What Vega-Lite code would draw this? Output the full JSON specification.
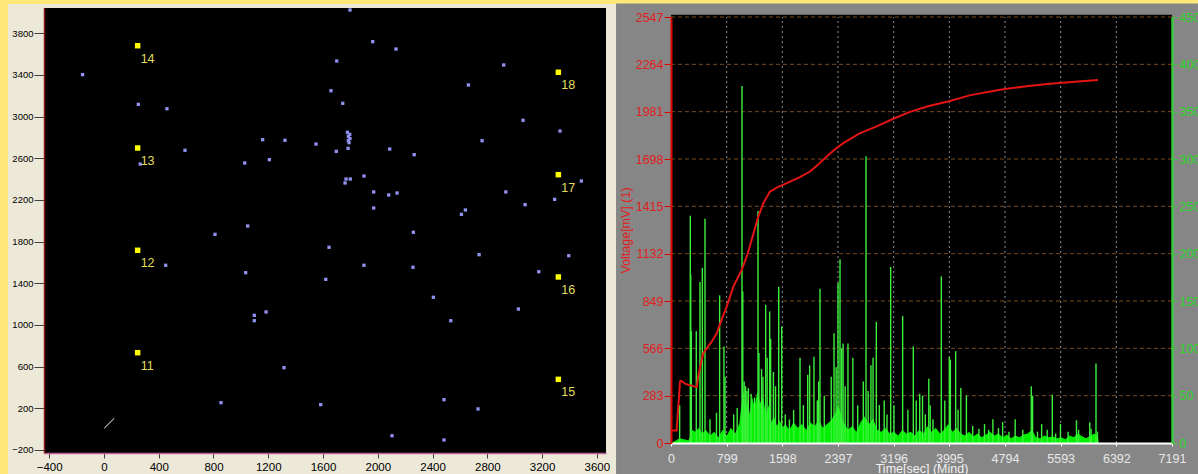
{
  "$schema": "https://vega.github.io/schema/vega-lite/v6.json",
  "width": 1198,
  "height": 474,
  "autosize": {"type": "none"},
  "padding": 0,
  "background": "#FFE878",
  "config": {
    "view": {"stroke": null},
    "font": "Liberation Sans",
    "axis": {"labelFont": "Liberation Sans", "titleFont": "Liberation Sans", "labelFlush": false, "labelOverlap": false, "grid": false, "titleFontWeight": "normal"}
  },
  "datasets": {
    "sensors": [
      {"x": -156, "y": 3403}, {"x": 251, "y": 3118}, {"x": 460, "y": 3076}, {"x": 592, "y": 2677}, {"x": 265, "y": 2545},
      {"x": 1028, "y": 2555}, {"x": 1159, "y": 2779}, {"x": 1208, "y": 2587}, {"x": 1322, "y": 2773}, {"x": 1050, "y": 1950},
      {"x": 811, "y": 1870}, {"x": 451, "y": 1573}, {"x": 1035, "y": 1502}, {"x": 1098, "y": 1093}, {"x": 1098, "y": 1041},
      {"x": 1184, "y": 1125}, {"x": 1315, "y": 590}, {"x": 855, "y": 254},
      {"x": 1797, "y": 4024}, {"x": 1963, "y": 3720}, {"x": 2133, "y": 3649}, {"x": 1700, "y": 3534}, {"x": 2920, "y": 3496},
      {"x": 2662, "y": 3304}, {"x": 1658, "y": 3249}, {"x": 1744, "y": 3128}, {"x": 3061, "y": 2965}, {"x": 3331, "y": 2862},
      {"x": 2762, "y": 2769},
      {"x": 1778, "y": 2850}, {"x": 1795, "y": 2830}, {"x": 1785, "y": 2810}, {"x": 1797, "y": 2790}, {"x": 1785, "y": 2770}, {"x": 1790, "y": 2750},
      {"x": 1549, "y": 2737}, {"x": 1783, "y": 2696}, {"x": 1697, "y": 2667}, {"x": 2087, "y": 2689}, {"x": 2266, "y": 2635},
      {"x": 1899, "y": 2430}, {"x": 1768, "y": 2401}, {"x": 1799, "y": 2401}, {"x": 1761, "y": 2363}, {"x": 1970, "y": 2277},
      {"x": 2080, "y": 2248}, {"x": 2141, "y": 2267}, {"x": 1970, "y": 2123}, {"x": 2935, "y": 2277}, {"x": 3487, "y": 2382},
      {"x": 3292, "y": 2206}, {"x": 3076, "y": 2155}, {"x": 2640, "y": 2104}, {"x": 2611, "y": 2062}, {"x": 2260, "y": 1890},
      {"x": 1644, "y": 1746}, {"x": 1899, "y": 1573}, {"x": 1620, "y": 1438}, {"x": 2257, "y": 1554}, {"x": 2740, "y": 1675},
      {"x": 3395, "y": 1665}, {"x": 3176, "y": 1511}, {"x": 2406, "y": 1266}, {"x": 2533, "y": 1041}, {"x": 3027, "y": 1153},
      {"x": 1583, "y": 235}, {"x": 2484, "y": 283}, {"x": 2732, "y": 194}, {"x": 2104, "y": -63}, {"x": 2484, "y": -104}
    ],
    "channels": [
      {"ch": "11", "x": 246, "y": 734}, {"ch": "12", "x": 246, "y": 1717}, {"ch": "13", "x": 246, "y": 2699}, {"ch": "14", "x": 246, "y": 3681},
      {"ch": "15", "x": 3319, "y": 478}, {"ch": "16", "x": 3319, "y": 1461}, {"ch": "17", "x": 3319, "y": 2443}, {"ch": "18", "x": 3319, "y": 3426}
    ],
    "origin": [{"x": 2, "y": 9}, {"x": 75, "y": 104}],
    "voltage": [
      {"t": 0, "mv": 74}, {"t": 81, "mv": 74}, {"t": 105, "mv": 217}, {"t": 129, "mv": 367}, {"t": 145, "mv": 372},
      {"t": 200, "mv": 355}, {"t": 270, "mv": 345}, {"t": 344, "mv": 337}, {"t": 370, "mv": 335}, {"t": 392, "mv": 400},
      {"t": 430, "mv": 480}, {"t": 464, "mv": 537}, {"t": 512, "mv": 566}, {"t": 584, "mv": 606}, {"t": 656, "mv": 656},
      {"t": 720, "mv": 730}, {"t": 799, "mv": 815}, {"t": 895, "mv": 935}, {"t": 1015, "mv": 1035}, {"t": 1100, "mv": 1130},
      {"t": 1158, "mv": 1215}, {"t": 1253, "mv": 1354}, {"t": 1325, "mv": 1434}, {"t": 1421, "mv": 1504}, {"t": 1465, "mv": 1514},
      {"t": 1530, "mv": 1530}, {"t": 1600, "mv": 1542}, {"t": 1708, "mv": 1563}, {"t": 1850, "mv": 1590}, {"t": 1995, "mv": 1623},
      {"t": 2100, "mv": 1660}, {"t": 2235, "mv": 1713}, {"t": 2350, "mv": 1755}, {"t": 2474, "mv": 1793}, {"t": 2700, "mv": 1850},
      {"t": 2952, "mv": 1893}, {"t": 3200, "mv": 1940}, {"t": 3430, "mv": 1980}, {"t": 3700, "mv": 2015}, {"t": 4004, "mv": 2045},
      {"t": 4300, "mv": 2080}, {"t": 4722, "mv": 2112}, {"t": 5100, "mv": 2133}, {"t": 5440, "mv": 2148}, {"t": 5800, "mv": 2160},
      {"t": 6129, "mv": 2170}
    ],
    "hitsEnvelope": [
      {"t": 0, "hits": 0}, {"t": 60, "hits": 2}, {"t": 120, "hits": 5}, {"t": 250, "hits": 3}, {"t": 280, "hits": 8},
      {"t": 300, "hits": 14}, {"t": 350, "hits": 12}, {"t": 400, "hits": 16}, {"t": 450, "hits": 10}, {"t": 500, "hits": 14},
      {"t": 560, "hits": 8}, {"t": 620, "hits": 12}, {"t": 680, "hits": 6}, {"t": 740, "hits": 14}, {"t": 800, "hits": 8},
      {"t": 860, "hits": 16}, {"t": 920, "hits": 10}, {"t": 980, "hits": 20}, {"t": 1010, "hits": 40}, {"t": 1040, "hits": 55},
      {"t": 1070, "hits": 35}, {"t": 1100, "hits": 45}, {"t": 1130, "hits": 30}, {"t": 1160, "hits": 50}, {"t": 1200, "hits": 38},
      {"t": 1240, "hits": 55}, {"t": 1280, "hits": 42}, {"t": 1320, "hits": 50}, {"t": 1360, "hits": 30}, {"t": 1400, "hits": 40},
      {"t": 1440, "hits": 22}, {"t": 1480, "hits": 28}, {"t": 1520, "hits": 18}, {"t": 1560, "hits": 24}, {"t": 1600, "hits": 16},
      {"t": 1640, "hits": 20}, {"t": 1700, "hits": 14}, {"t": 1760, "hits": 22}, {"t": 1820, "hits": 16}, {"t": 1880, "hits": 20},
      {"t": 1940, "hits": 14}, {"t": 2000, "hits": 22}, {"t": 2060, "hits": 18}, {"t": 2120, "hits": 24}, {"t": 2180, "hits": 16},
      {"t": 2240, "hits": 20}, {"t": 2300, "hits": 24}, {"t": 2360, "hits": 32}, {"t": 2400, "hits": 40}, {"t": 2440, "hits": 30},
      {"t": 2480, "hits": 22}, {"t": 2540, "hits": 14}, {"t": 2600, "hits": 18}, {"t": 2660, "hits": 12}, {"t": 2720, "hits": 22},
      {"t": 2780, "hits": 28}, {"t": 2840, "hits": 20}, {"t": 2900, "hits": 26}, {"t": 2960, "hits": 14}, {"t": 3020, "hits": 12},
      {"t": 3080, "hits": 16}, {"t": 3140, "hits": 10}, {"t": 3200, "hits": 12}, {"t": 3260, "hits": 8}, {"t": 3320, "hits": 14},
      {"t": 3380, "hits": 10}, {"t": 3440, "hits": 12}, {"t": 3500, "hits": 8}, {"t": 3560, "hits": 14}, {"t": 3620, "hits": 10},
      {"t": 3680, "hits": 18}, {"t": 3740, "hits": 12}, {"t": 3800, "hits": 16}, {"t": 3860, "hits": 10}, {"t": 3920, "hits": 14},
      {"t": 3980, "hits": 20}, {"t": 4040, "hits": 12}, {"t": 4100, "hits": 16}, {"t": 4160, "hits": 10}, {"t": 4220, "hits": 8},
      {"t": 4280, "hits": 12}, {"t": 4340, "hits": 7}, {"t": 4400, "hits": 10}, {"t": 4460, "hits": 6}, {"t": 4520, "hits": 9},
      {"t": 4580, "hits": 12}, {"t": 4640, "hits": 8}, {"t": 4700, "hits": 10}, {"t": 4760, "hits": 6}, {"t": 4820, "hits": 9},
      {"t": 4880, "hits": 5}, {"t": 4940, "hits": 8}, {"t": 5000, "hits": 6}, {"t": 5060, "hits": 9}, {"t": 5120, "hits": 10},
      {"t": 5180, "hits": 14}, {"t": 5240, "hits": 6}, {"t": 5300, "hits": 5}, {"t": 5360, "hits": 8}, {"t": 5420, "hits": 6},
      {"t": 5480, "hits": 7}, {"t": 5540, "hits": 5}, {"t": 5600, "hits": 6}, {"t": 5660, "hits": 4}, {"t": 5720, "hits": 8},
      {"t": 5780, "hits": 6}, {"t": 5840, "hits": 10}, {"t": 5900, "hits": 7}, {"t": 5960, "hits": 5}, {"t": 6020, "hits": 8},
      {"t": 6080, "hits": 10}, {"t": 6130, "hits": 6}, {"t": 6140, "hits": 0}
    ],
    "hitSpikes": [
      {"t": 124, "hits": 40}, {"t": 277, "hits": 240}, {"t": 283, "hits": 178}, {"t": 291, "hits": 118}, {"t": 363, "hits": 118},
      {"t": 416, "hits": 170}, {"t": 450, "hits": 185}, {"t": 488, "hits": 237}, {"t": 560, "hits": 25}, {"t": 653, "hits": 32},
      {"t": 698, "hits": 156}, {"t": 760, "hits": 102}, {"t": 775, "hits": 70}, {"t": 900, "hits": 30}, {"t": 950, "hits": 37},
      {"t": 1019, "hits": 377}, {"t": 1030, "hits": 160}, {"t": 1050, "hits": 65}, {"t": 1070, "hits": 60}, {"t": 1090, "hits": 55},
      {"t": 1110, "hits": 58}, {"t": 1150, "hits": 52}, {"t": 1200, "hits": 48}, {"t": 1249, "hits": 245}, {"t": 1262, "hits": 95},
      {"t": 1300, "hits": 78}, {"t": 1320, "hits": 70}, {"t": 1359, "hits": 146}, {"t": 1380, "hits": 90}, {"t": 1416, "hits": 139},
      {"t": 1430, "hits": 110}, {"t": 1470, "hits": 75}, {"t": 1500, "hits": 60}, {"t": 1546, "hits": 165}, {"t": 1589, "hits": 123},
      {"t": 1640, "hits": 30}, {"t": 1700, "hits": 25}, {"t": 1760, "hits": 35}, {"t": 1852, "hits": 90}, {"t": 1900, "hits": 40},
      {"t": 1962, "hits": 72}, {"t": 1990, "hits": 82}, {"t": 2052, "hits": 91}, {"t": 2100, "hits": 45}, {"t": 2120, "hits": 65},
      {"t": 2139, "hits": 163}, {"t": 2200, "hits": 50}, {"t": 2300, "hits": 70}, {"t": 2340, "hits": 116}, {"t": 2370, "hits": 80},
      {"t": 2397, "hits": 169}, {"t": 2426, "hits": 194}, {"t": 2450, "hits": 100}, {"t": 2470, "hits": 105}, {"t": 2500, "hits": 60},
      {"t": 2540, "hits": 105}, {"t": 2610, "hits": 90}, {"t": 2680, "hits": 40}, {"t": 2760, "hits": 65}, {"t": 2799, "hits": 303},
      {"t": 2830, "hits": 55}, {"t": 2870, "hits": 82}, {"t": 2900, "hits": 90}, {"t": 2947, "hits": 128}, {"t": 2990, "hits": 40},
      {"t": 3060, "hits": 45}, {"t": 3100, "hits": 30}, {"t": 3153, "hits": 186}, {"t": 3200, "hits": 40}, {"t": 3325, "hits": 134},
      {"t": 3400, "hits": 35}, {"t": 3478, "hits": 102}, {"t": 3520, "hits": 45}, {"t": 3570, "hits": 52}, {"t": 3610, "hits": 50},
      {"t": 3650, "hits": 30}, {"t": 3700, "hits": 68}, {"t": 3720, "hits": 40}, {"t": 3760, "hits": 25}, {"t": 3880, "hits": 176},
      {"t": 3930, "hits": 45}, {"t": 3995, "hits": 91}, {"t": 4010, "hits": 88}, {"t": 4086, "hits": 97}, {"t": 4120, "hits": 35},
      {"t": 4160, "hits": 58}, {"t": 4240, "hits": 50}, {"t": 4330, "hits": 18}, {"t": 4420, "hits": 15}, {"t": 4500, "hits": 20},
      {"t": 4560, "hits": 14}, {"t": 4620, "hits": 25}, {"t": 4700, "hits": 16}, {"t": 4760, "hits": 22}, {"t": 4850, "hits": 12},
      {"t": 4940, "hits": 25}, {"t": 5050, "hits": 14}, {"t": 5171, "hits": 60}, {"t": 5190, "hits": 50}, {"t": 5260, "hits": 12},
      {"t": 5320, "hits": 20}, {"t": 5400, "hits": 14}, {"t": 5473, "hits": 51}, {"t": 5520, "hits": 10}, {"t": 5590, "hits": 20},
      {"t": 5700, "hits": 12}, {"t": 5820, "hits": 24}, {"t": 5850, "hits": 14}, {"t": 6010, "hits": 22}, {"t": 6030, "hits": 15},
      {"t": 6100, "hits": 84}, {"t": 6120, "hits": 12}
    ],
    "timeGrid": [{"t": 799}, {"t": 1598}, {"t": 2397}, {"t": 3196}, {"t": 3995}, {"t": 4794}, {"t": 5593}, {"t": 6392}],
    "voltGrid": [{"mv": 283}, {"mv": 566}, {"mv": 849}, {"mv": 1132}, {"mv": 1415}, {"mv": 1698}, {"mv": 1981}, {"mv": 2264}, {"mv": 2547}]
  },
  "layer": [
    {
      "layer": [
        {
          "data": {"values": [{}]},
          "mark": {"type": "rect", "color": "#ECE9D8"},
          "encoding": {
            "x": {"datum": -701, "type": "quantitative", "scale": {"domain": [-438, 3667], "range": [44, 606], "nice": false, "zero": false}, "axis": null},
            "x2": {"datum": 3740},
            "y": {"datum": 4081, "type": "quantitative", "scale": {"domain": [-229, 4043], "range": [453, 8], "nice": false, "zero": false}, "axis": null},
            "y2": {"datum": -431}
          }
        },
        {
          "data": {"values": [{}]},
          "mark": {"type": "rect", "color": "#000000"},
          "encoding": {
            "x": {"datum": -438, "type": "quantitative", "scale": {"domain": [-438, 3667], "range": [44, 606], "nice": false, "zero": false}, "axis": null},
            "x2": {"datum": 3667},
            "y": {"datum": -229, "type": "quantitative", "scale": {"domain": [-229, 4043], "range": [453, 8], "nice": false, "zero": false}, "axis": null},
            "y2": {"datum": 4043}
          }
        },
        {
          "data": {"name": "origin"},
          "mark": {"type": "line", "color": "#FFFFFF", "strokeWidth": 1},
          "encoding": {
            "x": {"field": "x", "type": "quantitative", "scale": {"domain": [-438, 3667], "range": [44, 606], "nice": false, "zero": false}, "axis": null},
            "y": {"field": "y", "type": "quantitative", "scale": {"domain": [-229, 4043], "range": [453, 8], "nice": false, "zero": false}, "axis": null}
          }
        },
        {
          "data": {"name": "sensors"},
          "mark": {"type": "square", "size": 11, "color": "#9090EE", "opacity": 1},
          "encoding": {
            "x": {"field": "x", "type": "quantitative", "scale": {"domain": [-438, 3667], "range": [44, 606], "nice": false, "zero": false},
                  "axis": {"orient": "bottom", "offset": -21, "zindex": 2, "values": [-400, 0, 400, 800, 1200, 1600, 2000, 2400, 2800, 3200, 3600], "format": "d",
                           "labelFontSize": 11.5, "labelColor": "#000000", "tickColor": "#404040", "tickSize": 5, "labelPadding": 3,
                           "domainColor": "#C0609A", "domainWidth": 1.5, "title": null}},
            "y": {"field": "y", "type": "quantitative", "scale": {"domain": [-229, 4043], "range": [453, 8], "nice": false, "zero": false},
                  "axis": {"orient": "left", "offset": -44, "zindex": 2, "values": [-200, 200, 600, 1000, 1400, 1800, 2200, 2600, 3000, 3400, 3800], "format": "d",
                           "labelFontSize": 9.5, "labelColor": "#000000", "tickColor": "#404040", "tickSize": 10, "labelPadding": 1,
                           "domainColor": "#8B1A1A", "domainWidth": 1.5, "title": null}}
          }
        },
        {
          "data": {"name": "channels"},
          "mark": {"type": "square", "size": 30, "color": "#FFFF00", "opacity": 1},
          "encoding": {
            "x": {"field": "x", "type": "quantitative", "scale": {"domain": [-438, 3667], "range": [44, 606], "nice": false, "zero": false}, "axis": null},
            "y": {"field": "y", "type": "quantitative", "scale": {"domain": [-229, 4043], "range": [453, 8], "nice": false, "zero": false}, "axis": null}
          }
        },
        {
          "data": {"name": "channels"},
          "mark": {"type": "text", "color": "#E2DE62", "fontSize": 12.5, "align": "left", "baseline": "middle", "dx": 3, "dy": 13},
          "encoding": {
            "x": {"field": "x", "type": "quantitative", "scale": {"domain": [-438, 3667], "range": [44, 606], "nice": false, "zero": false}, "axis": null},
            "y": {"field": "y", "type": "quantitative", "scale": {"domain": [-229, 4043], "range": [453, 8], "nice": false, "zero": false}, "axis": null},
            "text": {"field": "ch"}
          }
        }
      ],
      "resolve": {"scale": {"x": "independent", "y": "independent"}, "axis": {"x": "independent", "y": "independent"}}
    },
    {
      "layer": [
        {
          "data": {"values": [{}]},
          "mark": {"type": "rect", "color": "#868686"},
          "encoding": {
            "x": {"datum": -789, "type": "quantitative", "scale": {"domain": [0, 7191], "range": [671, 1172], "nice": false, "zero": false}, "axis": null},
            "x2": {"datum": 7564},
            "y": {"datum": 2627, "type": "quantitative", "scale": {"domain": [0, 2547], "range": [443, 17], "nice": false, "zero": false}, "axis": null},
            "y2": {"datum": -186}
          }
        },
        {
          "data": {"values": [{}]},
          "mark": {"type": "rect", "color": "#000000"},
          "encoding": {
            "x": {"datum": 0, "type": "quantitative", "scale": {"domain": [0, 7191], "range": [671, 1172], "nice": false, "zero": false}, "axis": null},
            "x2": {"datum": 7191},
            "y": {"datum": 0, "type": "quantitative", "scale": {"domain": [0, 2547], "range": [443, 17], "nice": false, "zero": false}, "axis": null},
            "y2": {"datum": 2560}
          }
        },
        {
          "data": {"name": "timeGrid"},
          "mark": {"type": "rule", "color": "#A8A8A8", "strokeWidth": 1, "strokeDash": [2, 3], "opacity": 0.85},
          "encoding": {
            "x": {"field": "t", "type": "quantitative", "scale": {"domain": [0, 7191], "range": [671, 1172], "nice": false, "zero": false}, "axis": null},
            "y": {"datum": 0, "type": "quantitative", "scale": {"domain": [0, 2547], "range": [443, 17], "nice": false, "zero": false}, "axis": null},
            "y2": {"datum": 2547}
          }
        },
        {
          "data": {"name": "voltGrid"},
          "mark": {"type": "rule", "color": "#7A4A1E", "strokeWidth": 1, "strokeDash": [4, 3]},
          "encoding": {
            "x": {"datum": 0, "type": "quantitative", "scale": {"domain": [0, 7191], "range": [671, 1172], "nice": false, "zero": false}, "axis": null},
            "x2": {"datum": 7191},
            "y": {"field": "mv", "type": "quantitative", "scale": {"domain": [0, 2547], "range": [443, 17], "nice": false, "zero": false}, "axis": null}
          }
        },
        {
          "data": {"name": "hitsEnvelope"},
          "mark": {"type": "area", "color": "#00F000", "opacity": 1, "interpolate": "linear"},
          "encoding": {
            "x": {"field": "t", "type": "quantitative", "scale": {"domain": [0, 7191], "range": [671, 1172], "nice": false, "zero": false}, "axis": null},
            "y": {"field": "hits", "type": "quantitative", "scale": {"domain": [0, 450], "range": [443, 17], "nice": false, "zero": false}, "axis": null},
            "y2": {"datum": 0}
          }
        },
        {
          "data": {"name": "hitSpikes"},
          "mark": {"type": "rule", "color": "#3CF03C", "strokeWidth": 1.4},
          "encoding": {
            "x": {"field": "t", "type": "quantitative", "scale": {"domain": [0, 7191], "range": [671, 1172], "nice": false, "zero": false}, "axis": null},
            "y": {"field": "hits", "type": "quantitative", "scale": {"domain": [0, 450], "range": [443, 17], "nice": false, "zero": false},
                  "axis": {"orient": "right", "offset": -26, "zindex": 2, "values": [0, 50, 100, 150, 200, 250, 300, 350, 400, 450], "format": "d",
                           "labelFontSize": 12.5, "labelColor": "#28D828", "tickColor": "#3CC83C", "tickSize": 5, "labelPadding": 2,
                           "domainColor": "#3CC83C", "domainWidth": 2.5, "title": null}},
            "y2": {"datum": 0}
          }
        },
        {
          "data": {"name": "voltage"},
          "mark": {"type": "line", "color": "#E41414", "strokeWidth": 2},
          "encoding": {
            "x": {"field": "t", "type": "quantitative", "scale": {"domain": [0, 7191], "range": [671, 1172], "nice": false, "zero": false},
                  "axis": {"orient": "bottom", "offset": -31, "zindex": 2, "values": [0, 799, 1598, 2397, 3196, 3995, 4794, 5593, 6392, 7191], "format": "d",
                           "labelFontSize": 12.5, "labelColor": "#E8E8E8", "tickColor": "#FFFFFF", "tickSize": 3, "labelPadding": 6,
                           "domainColor": "#FFFFFF", "domainWidth": 2,
                           "title": "Time[sec] (Mind)", "titleFontSize": 12.5, "titleColor": "#F2F2F2", "titlePadding": -2}},
            "y": {"field": "mv", "type": "quantitative", "scale": {"domain": [0, 2547], "range": [443, 17], "nice": false, "zero": false},
                  "axis": {"orient": "left", "offset": -671, "zindex": 2, "values": [0, 283, 566, 849, 1132, 1415, 1698, 1981, 2264, 2547], "format": "d",
                           "labelFontSize": 12.5, "labelColor": "#E02020", "tickColor": "#E00000", "tickSize": 7, "labelPadding": 1,
                           "domainColor": "#E00000", "domainWidth": 2,
                           "title": "Voltage[mV] (1)", "titleFontSize": 12.5, "titleColor": "#E02020", "titlePadding": 3}}
          }
        }
      ],
      "resolve": {"scale": {"x": "independent", "y": "independent"}, "axis": {"x": "independent", "y": "independent"}}
    }
  ],
  "resolve": {"scale": {"x": "independent", "y": "independent"}, "axis": {"x": "independent", "y": "independent"}}
}
